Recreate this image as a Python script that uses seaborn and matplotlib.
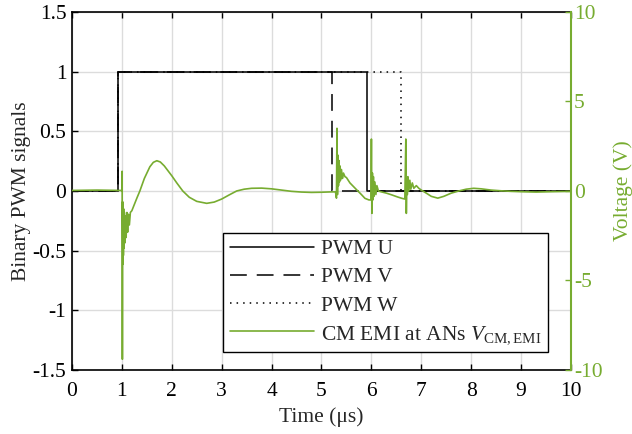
import matplotlib
matplotlib.use('Agg')
import matplotlib.pyplot as plt
import seaborn as sns

# PWM signals (binary): common switch-on time, individual switch-off times in us
pwm_on = 0.93
pwm_off_u = 5.92
pwm_off_v = 5.22
pwm_off_w = 6.59

# CM EMI at ANs (time in us, voltage in V)
emi_t = [0.00, 0.50, 0.98, 1.000, 1.005, 1.010, 1.015, 1.020, 1.025, 1.030,
         1.035, 1.040, 1.050, 1.060, 1.070, 1.085, 1.100, 1.115, 1.130, 1.150,
         1.170, 1.20, 1.25, 1.30, 1.36, 1.45, 1.56, 1.63, 1.70, 1.77,
         1.85, 2.00, 2.10, 2.22, 2.35, 2.50, 2.70, 2.85, 3.00, 3.15,
         3.30, 3.45, 3.60, 3.80, 4.00, 4.20, 4.40, 4.60, 4.80, 5.00,
         5.20, 5.28, 5.30, 5.31, 5.32, 5.33, 5.34, 5.35, 5.36, 5.37,
         5.38, 5.40, 5.42, 5.44, 5.47, 5.50, 5.57, 5.64, 5.71, 5.80,
         5.87, 5.95, 5.99, 6.00, 6.01, 6.02, 6.03, 6.04, 6.05, 6.07,
         6.09, 6.11, 6.14, 6.20, 6.30, 6.41, 6.52, 6.61, 6.67, 6.69,
         6.70, 6.71, 6.72, 6.73, 6.75, 6.77, 6.79, 6.82, 6.85, 6.90,
         6.95, 7.00, 7.10, 7.20, 7.33, 7.45, 7.60, 7.75, 7.90, 8.05,
         8.20, 8.40, 8.60, 8.80, 9.00, 9.30, 9.60, 10.0]
emi_v = [0.03, 0.05, 0.03, 0.0, 1.1, -9.4, -0.6, -4.1, -0.7, -3.6,
         -1.0, -3.2, -1.2, -2.9, -1.4, -2.6, -1.2, -2.3, -1.3, -1.9,
         -1.2, -1.1, -0.75, -0.4, 0.0, 0.7, 1.35, 1.6, 1.69, 1.62,
         1.4, 0.85, 0.45, 0.0, -0.35, -0.58, -0.69, -0.62, -0.45, -0.22,
         0.0, 0.1, 0.15, 0.16, 0.12, 0.05, -0.02, -0.06, -0.08, -0.07,
         -0.05, -0.05, -0.4, 3.5, -0.2, 2.0, 0.3, 1.7, 0.5, 1.4,
         0.6, 1.2, 0.7, 1.0, 0.8, 0.75, 0.45, 0.25, 0.05, -0.2,
         -0.41, -0.5, -0.5, 2.9, -1.25, 1.0, -0.5, 0.8, -0.3, 0.5,
         -0.2, 0.3, 0.0, -0.05, -0.12, -0.22, -0.33, -0.41, -0.45, 2.9,
         -1.25, 0.6, -0.2, 0.8, 0.0, 0.6, 0.1, 0.45, 0.15, 0.3,
         0.15, 0.05, -0.12, -0.3, -0.4, -0.3, -0.12, 0.0, 0.1, 0.15,
         0.12, 0.05, 0.01, -0.02, -0.04, -0.06, -0.04, -0.02]

left_ticks = [-1.5, -1, -0.5, 0, 0.5, 1, 1.5]
left_labels = ['-1.5', '-1', '-0.5', '0', '0.5', '1', '1.5']
right_ticks = [-10, -5, 0, 5, 10]
right_labels = ['-10', '-5', '0', '5', '10']
x_ticks = list(range(0, 11))

GREEN = '#77AC30'


def pulso(t_on, t_off):
    # step signal 0 -> 1 -> 0 over the 0..10 us window
    return [0, t_on, t_on, t_off, t_off, 10], [0, 0, 1, 1, 0, 0]


sns.set_theme(style='ticks')
plt.rcParams['font.family'] = ['Liberation Serif', 'DejaVu Serif']
plt.rcParams['mathtext.fontset'] = 'custom'
plt.rcParams['mathtext.rm'] = 'Liberation Serif'
plt.rcParams['mathtext.it'] = 'Liberation Serif:italic'
plt.rcParams['axes.unicode_minus'] = False

fig = plt.figure(figsize=(6.32, 4.34), dpi=100)
ax1 = fig.add_axes([0.1139, 0.1475, 0.7896, 0.8249])
ax2 = ax1.twinx()

lw = 1.1
tu, yu = pulso(pwm_on, pwm_off_u)
tv, yv = pulso(pwm_on, pwm_off_v)
tw, yw = pulso(pwm_on, pwm_off_w)
sns.lineplot(x=tu, y=yu, ax=ax1, color='black', lw=lw, estimator=None, sort=False, label='PWM U')
sns.lineplot(x=tv, y=yv, ax=ax1, color='black', lw=lw, estimator=None, sort=False,
             linestyle=(0, (11, 6.5)), label='PWM V')
sns.lineplot(x=tw, y=yw, ax=ax1, color='black', lw=lw, estimator=None, sort=False,
             linestyle=(0, (1, 3.3)), label='PWM W')
sns.lineplot(x=emi_t, y=emi_v, ax=ax2, color=GREEN, lw=1.2, estimator=None, sort=False,
             label=r'CM EMI at ANs $V_{\mathrm{CM,EMI}}$')

ax1.set_xlim(0, 10)
ax1.set_ylim(-1.5, 1.5)
ax2.set_ylim(-10, 10)
ax1.set_xticks(x_ticks)
ax1.set_xticklabels([str(v) for v in x_ticks])
ax1.set_yticks(left_ticks)
ax1.set_yticklabels(left_labels)
ax2.set_yticks(right_ticks)
ax2.set_yticklabels(right_labels)

ax1.grid(True, color='#dcdcdc', lw=1.0)
ax1.set_axisbelow(True)

fs = 15.5
ax1.tick_params(axis='both', direction='in', length=4, width=1, labelsize=fs,
                colors='black', top=True, right=False)
ax1.tick_params(axis='x', pad=9)
ax1.tick_params(axis='y', pad=4)
ax2.tick_params(axis='y', direction='in', length=4, width=1, labelsize=fs,
                colors=GREEN, pad=2)
for s in ['left', 'top', 'bottom']:
    ax1.spines[s].set_color('black')
    ax1.spines[s].set_linewidth(1.2)
    ax2.spines[s].set_visible(False)
ax1.spines['right'].set_visible(False)
ax2.spines['right'].set_color(GREEN)
ax2.spines['right'].set_linewidth(1.5)

ax1.set_xlabel('Time (μs)', fontsize=fs, labelpad=4)
ax1.set_ylabel('Binary PWM signals', fontsize=fs, labelpad=1)
ax2.set_ylabel('Voltage (V)', fontsize=fs, color=GREEN, labelpad=8)

h1, l1 = ax1.get_legend_handles_labels()
h2, l2 = ax2.get_legend_handles_labels()
ax1.get_legend().remove()
ax2.legend(h1 + h2, l1 + l2, loc='lower left', bbox_to_anchor=(0.303, 0.05),
           fontsize=fs, frameon=True, fancybox=False, edgecolor='black',
           framealpha=1, handlelength=3.9, handletextpad=0.35, labelspacing=0.38,
           borderpad=0.3, borderaxespad=0)
ax2.get_legend().get_frame().set_linewidth(1.0)

plt.savefig('out.png', dpi=100)
plt.close()
